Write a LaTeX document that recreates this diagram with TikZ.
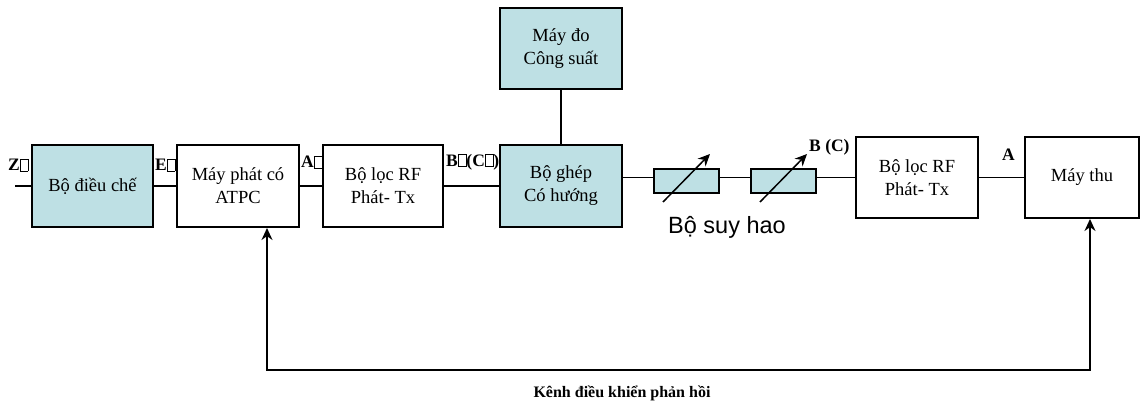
\documentclass[tikz,border=0pt]{standalone}
\usepackage{fontspec}
\setmainfont{Liberation Serif}
\newfontfamily\arialfont{Liberation Sans}
\usetikzlibrary{arrows.meta}
\definecolor{boxcyan}{RGB}{190,224,228}
\newcommand{\missglyph}{{\setlength{\fboxsep}{0pt}\setlength{\fboxrule}{0.6pt}\fbox{\rule{0pt}{0.66em}\hspace{0.42em}}}}
\begin{document}
\begin{tikzpicture}[x=1pt,y=-1pt,
  blk/.style={draw=black,line width=2pt,rectangle,inner sep=0pt,align=center,
    font=\fontsize{18.5}{23}\selectfont},
  cyanblk/.style={blk,fill=boxcyan},
  whiteblk/.style={blk,fill=white},
  att/.style={draw=black,line width=1.5pt,fill=boxcyan,rectangle,inner sep=0pt,
    minimum width=65pt,minimum height=24pt},
  conn/.style={draw=black,line width=1.3pt},
  fb/.style={draw=black,line width=1.5pt},
  lbl/.style={font=\bfseries\fontsize{17.5}{20}\selectfont,inner sep=0pt,anchor=west},
  varr/.style={draw=black,line width=1.5pt,-{Stealth[length=12pt,width=11pt]}},
  fbarr/.style={fb,{Stealth[length=12pt,width=11pt]}-{Stealth[length=12pt,width=11pt]}}
]
\useasboundingbox (0,0) rectangle (1141,407);
% blocks
\node[cyanblk,minimum width=121pt,minimum height=82pt] (dieu) at (92.5,186) {Bộ điều chế};
\node[whiteblk,minimum width=122pt,minimum height=82pt] (phat) at (238,186) {Máy phát có\\ATPC};
\node[whiteblk,minimum width=120pt,minimum height=82pt] (rf1) at (383,186) {Bộ lọc RF\\Phát- Tx};
\node[cyanblk,minimum width=122pt,minimum height=82pt] (ghep) at (561,186) {Bộ ghép\\Có hướng};
\node[cyanblk,minimum width=122pt,minimum height=81pt] (do) at (561,48.5) {Máy đo\\Công suất};
\node[att] (att1) at (686.5,181) {};
\node[att] (att2) at (783.5,181) {};
\node[whiteblk,minimum width=122pt,minimum height=81pt] (rf2) at (917,177.5) {Bộ lọc RF\\Phát- Tx};
\node[whiteblk,minimum width=114pt,minimum height=81pt] (thu) at (1082,177.5) {Máy thu};
% coordinates
\coordinate (in) at (15,186);
\coordinate (fbL) at (267,370);
\coordinate (fbR) at (1090,370);
\coordinate (a1s) at (663,202);
\coordinate (a1e) at (710,154);
\coordinate (a2s) at (760,202);
\coordinate (a2e) at (807,154);
% connectors
\draw[conn] (in) -- (dieu.west);
\draw[conn] (dieu.east) -- (phat.west);
\draw[conn] (phat.east) -- (rf1.west);
\draw[conn] (rf1.east) -- (ghep.west);
\draw[conn] (do.south) -- (ghep.north);
\draw[conn] (ghep.east |- rf2.west) -- (att1.west |- rf2.west);
\draw[conn] (att1.east |- rf2.west) -- (att2.west |- rf2.west);
\draw[conn] (att2.east |- rf2.west) -- (rf2.west);
\draw[conn] (rf2.east) -- (thu.west);
% variable attenuator arrows
\draw[varr] (a1s) -- (a1e);
\draw[varr] (a2s) -- (a2e);
% feedback loop
\draw[fbarr] (phat.south -| fbL) -- (fbL) -- (fbR) -- (thu.south -| fbR);
% labels
\node[lbl] (lz) at (8,165) {Z\missglyph};
\node[lbl] (le) at (155,165) {E\missglyph};
\node[lbl] (la) at (301,162) {A\missglyph};
\node[lbl] (lb) at (446,162) {B\missglyph(C\missglyph)};
\node[lbl] (lbc) at (809,147) {B (C)};
\node[lbl] (la2) at (1002,155) {A};
\node[font=\arialfont\fontsize{23.5}{26}\selectfont,inner sep=0pt] (suy) at (727,227) {Bộ suy hao};
\node[font=\bfseries\fontsize{16}{19}\selectfont,inner sep=0pt] (kenh) at (622,393) {Kênh điều khiển phản hồi};
\end{tikzpicture}
\end{document}
